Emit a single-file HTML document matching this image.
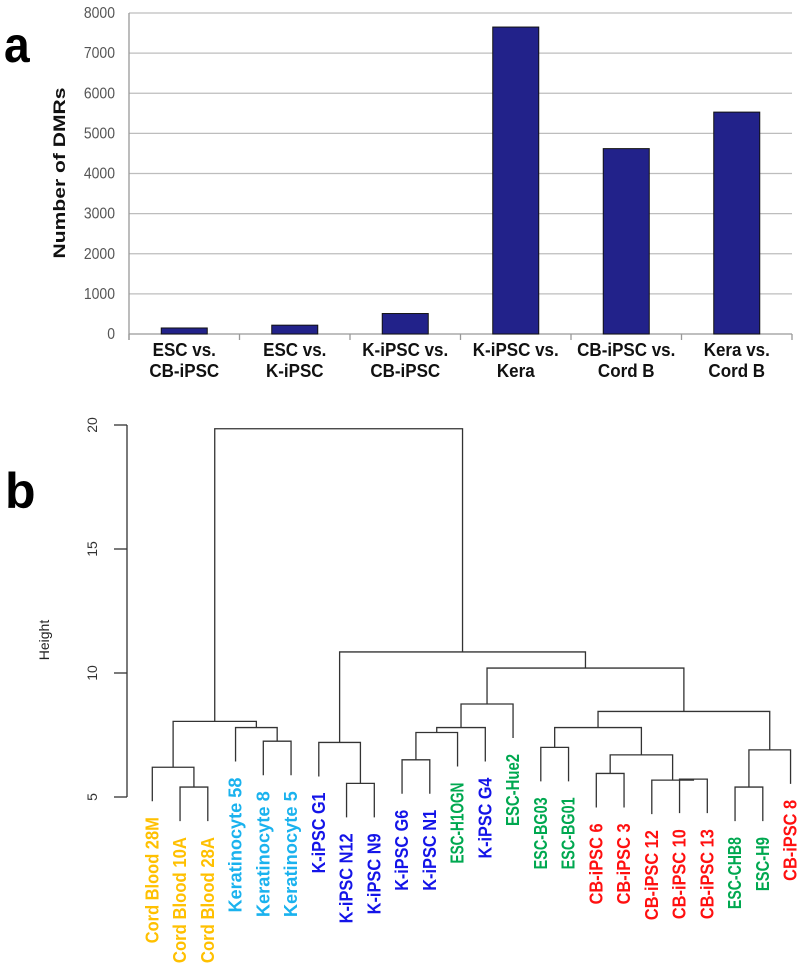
<!DOCTYPE html>
<html><head><meta charset="utf-8"><style>
html,body{margin:0;padding:0;background:#fff;width:800px;height:979px;overflow:hidden}
svg{display:block;font-family:"Liberation Sans",Arial,sans-serif}
</style></head><body>
<svg id="fig" width="800" height="979" viewBox="0 0 800 979">
  <g id="panelA"></g>
  <g id="panelB"></g>
</svg>
<script>
// ---------- Panel a data ----------
const barCategoriesLine1 = ["ESC vs.","ESC vs.","K-iPSC vs.","K-iPSC vs.","CB-iPSC vs.","Kera vs."];
const barCategoriesLine2 = ["CB-iPSC","K-iPSC","CB-iPSC","Kera","Cord B","Cord B"];
const barValues = [150, 220, 510, 7650, 4620, 5530];
const barTicks = [0,1000,2000,3000,4000,5000,6000,7000,8000];

// ---------- Panel b data ----------
const leafLabels = ["Cord Blood 28M","Cord Blood 10A","Cord Blood 28A","Keratinocyte 58","Keratinocyte 8","Keratinocyte 5","K-iPSC G1","K-iPSC N12","K-iPSC N9","K-iPSC G6","K-iPSC N1","ESC-H1OGN","K-iPSC G4","ESC-Hue2","ESC-BG03","ESC-BG01","CB-iPSC 6","CB-iPSC 3","CB-iPSC 12","CB-iPSC 10","CB-iPSC 13","ESC-CHB8","ESC-H9","CB-iPSC 8"];
const leafGroups = ["cord","cord","cord","kera","kera","kera","kipsc","kipsc","kipsc","kipsc","kipsc","esc","kipsc","esc","esc","esc","cbipsc","cbipsc","cbipsc","cbipsc","cbipsc","esc","esc","cbipsc"];
// merges: negative = leaf (-(i+1)), positive = merge number (1-based)
const mergeLeft  = [-2,-1,-5,-4, 2,-8, -7, -10, 8, 9, 10, -15, -17, -20, -19, 13, 12, -22, 18, 17, 11, 7, 5];
const mergeRight = [-3, 1,-6, 3, 4,-9, 6, -11, -12, -13, -14, -16, -18, -21, 14, 15, 16, -23, -24, 19, 20, 21, 22];
const mergeHeights = [5.4,6.2,7.25,7.8,8.05,5.55,7.2,6.5,7.6,7.8,8.75,7.0,5.95,5.72,5.68,6.7,7.8,5.4,6.9,8.45,10.2,10.85,19.85];
const heightTicks = [5,10,15,20];

const NS="http://www.w3.org/2000/svg";
function mk(tag, attrs, parent){const e=document.createElementNS(NS,tag);for(const k in attrs)e.setAttribute(k,attrs[k]);parent.appendChild(e);return e;}

// ---------- Panel a ----------
(function(){
  const g=document.getElementById('panelA');
  const x0=129, x1=792, yTop=13, yBot=334, vmax=8000;
  const yS=v=>yBot-(v/vmax)*(yBot-yTop);
  const band=(x1-x0)/barValues.length;
  const xC=i=>x0+band*(i+0.5);
  barTicks.forEach(t=>{
    const l=mk('line',{x1:x0,x2:x1,y1:yS(t),y2:yS(t),stroke:t===0?'#999':'#bdbdbd','stroke-width':1.3},g);
    
    
    const tx=mk('text',{x:0,y:0,'text-anchor':'end','font-size':14,fill:'#555',transform:`translate(115,${yS(t)+5}) scale(1,1.15)`},g);
    tx.textContent=t;
    
    
  });
  mk('line',{x1:x0,x2:x0,y1:yTop,y2:yBot+6,stroke:'#999','stroke-width':1.3},g);
  for(let i=0;i<=barValues.length;i++){
    mk('line',{x1:x0+band*i,x2:x0+band*i,y1:yBot,y2:yBot+6,stroke:'#999','stroke-width':1.3},g);
  }
  barValues.forEach((v,i)=>{
    const r=mk('rect',{x:xC(i)-23,y:yS(v),width:46,height:yBot-yS(v),fill:'#22228a',stroke:'#111','stroke-width':1},g);
    
    
    [barCategoriesLine1[i],barCategoriesLine2[i]].forEach((s,j)=>{
      const t=mk('text',{x:0,y:0,'text-anchor':'middle','font-size':17,'font-weight':'bold',fill:'#111',transform:`translate(${xC(i)},${356+j*21}) scale(1,1.1)`},g);
      t.textContent=s;
      
      
    });
  });
  const yt=mk('text',{x:0,y:0,'text-anchor':'middle','font-size':17,'font-weight':'bold',fill:'#111',textLength:171,lengthAdjust:'spacingAndGlyphs',transform:'translate(65,173) rotate(-90)'},g);
  yt.textContent='Number of DMRs';
  
  
  const pa=mk('text',{x:0,y:0,'font-size':42,'font-weight':'bold',fill:'#000',transform:'translate(4,62) scale(1.1,1.2)'},g);
  pa.textContent='a';
  
  
})();

// ---------- Panel b ----------
(function(){
  const g=document.getElementById('panelB');
  const colors={cord:'#FFC000',kera:'#1AB2EE',kipsc:'#1414E8',esc:'#00A850',cbipsc:'#FF1010'};
  const yH=h=>797-(h-5)*24.8;
  const leafX=i=>152.3+i*27.75;
  const hang=34;
  const lineStyle={stroke:'#333','stroke-width':1.3,fill:'none'};
  mk('line',Object.assign({x1:127,x2:127,y1:yH(20),y2:yH(5)},lineStyle),g);
  heightTicks.forEach(t=>{
    mk('line',Object.assign({x1:114,x2:127,y1:yH(t),y2:yH(t)},lineStyle),g);
    const tx=mk('text',{x:0,y:0,'text-anchor':'middle','font-size':14,fill:'#333',transform:`translate(97,${yH(t)}) rotate(-90)`},g);
    tx.textContent=t;
    
    
  });
  const ht=mk('text',{x:0,y:0,'text-anchor':'middle','font-size':14,fill:'#222',transform:'translate(49,640) rotate(-90)'},g);
  ht.textContent='Height';
  
  
  const pb=mk('text',{x:0,y:0,'font-size':50,'font-weight':'bold',fill:'#000',transform:'translate(5,508)'},g);
  pb.textContent='b';
  
  

  const mX=[], leafEnd=[];
  function nodeX(id){return id<0?leafX(-id-1):mX[id-1];}
  function nodeY(id,parentH){return id<0?yH(parentH)+hang:yH(mergeHeights[id-1]);}
  mergeHeights.forEach((h,k)=>{
    const a=mergeLeft[k], b=mergeRight[k];
    const xa=nodeX(a), xb=nodeX(b), y=yH(h);
    const p=mk('path',Object.assign({d:`M${xa},${nodeY(a,h)}V${y}H${xb}V${nodeY(b,h)}`},lineStyle),g);
    
    
    mX[k]=(xa+xb)/2;
    if(a<0) leafEnd[-a-1]=yH(h)+hang;
    if(b<0) leafEnd[-b-1]=yH(h)+hang;
  });
  leafLabels.forEach((s,i)=>{
    const t=mk('text',{x:0,y:0,'text-anchor':'end','font-size':15,'font-weight':'bold',fill:colors[leafGroups[i]],
      textLength:(s.length*9.0).toFixed(1),lengthAdjust:'spacingAndGlyphs',
      transform:`translate(${leafX(i)+6},${leafEnd[i]+16}) rotate(-90) scale(1,1.25)`},g);
    t.textContent=s;
    
    
  });
})();
</script>
</body></html>
